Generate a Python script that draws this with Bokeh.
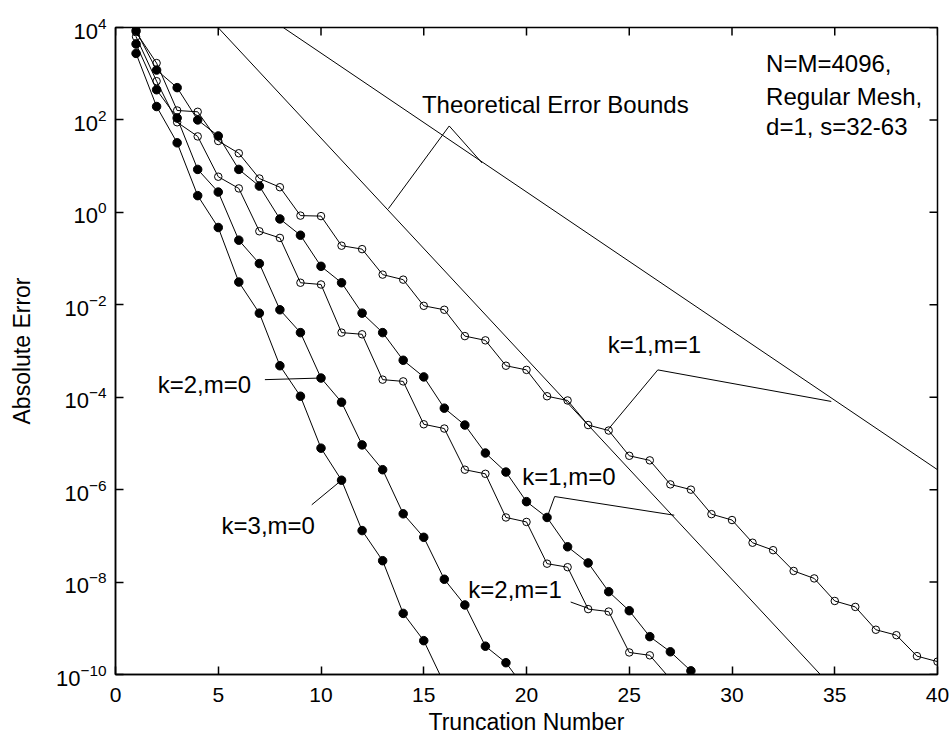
from bokeh.plotting import figure
from bokeh.models import FixedTicker, Range1d, ColumnDataSource
from bokeh.embed import file_html
from bokeh.resources import INLINE
from bokeh.core.properties import value

FONT = "Liberation Sans"

# ---------------- data ----------------
k1m1_x = list(range(1, 41))
k1m1_y = [7.9e3, 1.7e3, 1.6e2, 1.5e2, 3.5e1, 1.9e1, 5.4, 3.5, 8.5e-1, 8.3e-1,
          1.9e-1, 1.6e-1, 4.5e-2, 3.5e-2, 9.5e-3, 7.8e-3, 2.1e-3, 1.7e-3, 4.8e-4, 3.9e-4,
          1.05e-4, 8.5e-5, 2.5e-5, 1.9e-5, 5.4e-6, 4.3e-6, 1.3e-6, 1.0e-6, 2.95e-7, 2.2e-7,
          7.1e-8, 4.9e-8, 1.74e-8, 1.2e-8, 3.9e-9, 2.9e-9, 9.3e-10, 7.1e-10, 2.5e-10, 1.9e-10]

k1m0_x = list(range(1, 29))
k1m0_y = [8.5e3, 1.2e3, 5.0e2, 1.0e2, 4.5e1, 8.5, 3.7, 7.2e-1, 3.2e-1, 6.8e-2,
          3.0e-2, 6.6e-3, 2.5e-3, 6.3e-4, 2.75e-4, 5.8e-5, 2.5e-5, 6.2e-6, 2.4e-6, 5.5e-7,
          2.5e-7, 5.8e-8, 2.6e-8, 6.2e-9, 2.4e-9, 6.6e-10, 3.1e-10, 1.2e-10]

k2m1_x = list(range(1, 28))
k2m1_y = [6.3e3, 6.9e2, 8.9e1, 4.4e1, 5.9, 3.3, 3.9e-1, 2.8e-1, 3.0e-2, 2.75e-2,
          2.5e-3, 2.3e-3, 2.4e-4, 2.2e-4, 2.6e-5, 2.1e-5, 2.7e-6, 2.2e-6, 2.5e-7, 2.0e-7,
          2.5e-8, 2.1e-8, 2.6e-9, 2.3e-9, 3.0e-10, 2.6e-10, 8.0e-11]

k2m0_x = list(range(1, 21))
k2m0_y = [4.4e3, 4.5e2, 1.1e2, 8.5, 2.75, 2.5e-1, 7.8e-2, 7.8e-3, 2.5e-3, 2.6e-4,
          7.8e-5, 9.3e-6, 2.7e-6, 3.0e-7, 9.3e-8, 1.15e-8, 3.2e-9, 4.1e-10, 1.8e-10, 4.5e-11]

k3m0_x = list(range(1, 17))
k3m0_y = [2.75e3, 1.95e2, 3.2e1, 2.3, 4.7e-1, 3.1e-2, 6.6e-3, 4.8e-4, 1.05e-4, 7.9e-6,
          1.6e-6, 1.3e-7, 2.9e-8, 2.1e-9, 5.4e-10, 6.3e-11]

# theoretical error bounds (straight lines on the log scale)
bound_a_x = [4.99, 34.3]
bound_a_y = [1e4, 1e-10]
bound_b_x = [8.16, 40.0]
bound_b_y = [1e4, 2.7e-6]

x_ticks = [0, 5, 10, 15, 20, 25, 30, 35, 40]
y_ticks = [1e-10, 1e-8, 1e-6, 1e-4, 1e-2, 1e0, 1e2, 1e4]
x_max = 40
y_max = 1e4

# annotation texts and leader lines
note_text = ["Theoretical Error Bounds", "N=M=4096,", "Regular Mesh,", "d=1, s=32-63",
             "k=1,m=1", "k=1,m=0", "k=2,m=1", "k=2,m=0", "k=3,m=0"]
note_x = [14.91, 31.66, 31.66, 31.66, 23.95, 19.79, 17.17, 2.05, 5.16]
note_y = [2.2e2, 1.68e3, 3.2e2, 7.2e1, 1.38e-3, 1.9e-6, 6.8e-9, 1.86e-4, 1.7e-7]

leaders_x = [[17.84, 16.24, 13.28],
             [23.95, 26.39, 34.83],
             [21.0, 21.37, 27.19],
             [22.15, 23.0],
             [7.27, 10.0],
             [9.55, 11.0]]
leaders_y = [[1.17e1, 7.4e1, 1.2],
             [1.95e-5, 3.9e-4, 8.1e-5],
             [2.5e-7, 7.1e-7, 2.8e-7],
             [3.7e-9, 2.7e-9],
             [2.4e-4, 2.6e-4],
             [4.7e-7, 1.6e-6]]

# ---------------- figure ----------------
p = figure(width=951, height=740, output_backend="svg", toolbar_location=None,
           y_axis_type="log", x_range=Range1d(0, 40), y_range=Range1d(1e-10, 1e4),
           min_border_left=115, min_border_right=14, min_border_top=27, min_border_bottom=66)
p.grid.visible = False
p.outline_line_color = "black"
p.outline_line_width = 1.5
p.background_fill_color = "white"
p.border_fill_color = "white"


def style_axis(ax):
    ax.axis_line_color = "black"
    ax.axis_line_width = 1.5
    ax.major_tick_line_color = "black"
    ax.major_tick_line_width = 1.5
    ax.major_tick_in = 8
    ax.major_tick_out = 0
    ax.minor_tick_line_color = None
    ax.major_label_text_font = FONT
    ax.major_label_text_color = "black"
    ax.axis_label_text_font = FONT
    ax.axis_label_text_color = "black"
    ax.axis_label_text_font_style = "normal"


xa = p.xaxis[0]
xa.ticker = FixedTicker(ticks=x_ticks, minor_ticks=[])
style_axis(xa)
xa.major_label_text_font_size = "21px"
xa.major_label_standoff = 13
xa.axis_label = "Truncation Number"
xa.axis_label_text_font_size = "23px"
xa.axis_label_standoff = 4

ya = p.yaxis[0]
ya.ticker = FixedTicker(ticks=y_ticks, minor_ticks=[])
style_axis(ya)
ya.major_label_text_font_size = "22px"
ya.major_label_standoff = 9
ya.axis_label = "Absolute Error"
ya.axis_label_text_font_size = "23px"
ya.axis_label_standoff = 18

# inward ticks on the top and right edges of the box
p.ray(x=x_ticks, y=[y_max] * len(x_ticks), length=8, length_units="screen",
      angle=-1.5707963, line_color="black", line_width=1.5)
p.ray(x=[x_max] * len(y_ticks), y=y_ticks, length=8, length_units="screen",
      angle=3.1415927, line_color="black", line_width=1.5)

# bounds
p.line(bound_a_x, bound_a_y, line_color="black", line_width=1)
p.line(bound_b_x, bound_b_y, line_color="black", line_width=1)

# series
series = [
    (k1m1_x, k1m1_y, False),
    (k1m0_x, k1m0_y, True),
    (k2m1_x, k2m1_y, False),
    (k2m0_x, k2m0_y, True),
    (k3m0_x, k3m0_y, True),
]
for xs, ys, filled in series:
    src = ColumnDataSource(dict(x=xs, y=ys))
    p.line("x", "y", source=src, line_color="black", line_width=1)
    if filled:
        p.scatter("x", "y", source=src, marker="circle", size=8.5,
                  fill_color="black", line_color="black", line_width=1)
    else:
        p.scatter("x", "y", source=src, marker="circle", size=7.5,
                  fill_color=None, line_color="black", line_width=1)

# leader lines
p.multi_line(leaders_x, leaders_y, line_color="black", line_width=1)

# annotation texts
p.text(x=note_x, y=note_y, text=note_text, text_align="left", text_baseline="middle",
       text_font=value(FONT), text_font_size="24px", text_color="black")

open("out.html", "w").write(file_html(p, INLINE))
